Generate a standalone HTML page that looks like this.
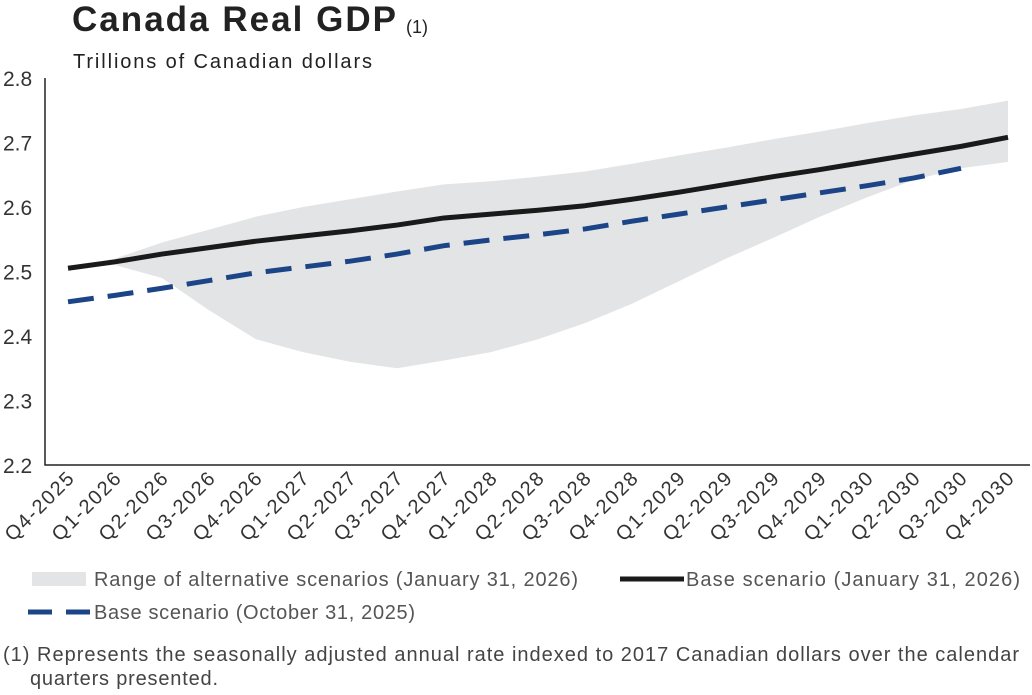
<!DOCTYPE html>
<html><head><meta charset="utf-8"><style>
body{margin:0;background:#fff;width:1032px;height:690px;overflow:hidden;font-family:"Liberation Sans",sans-serif;color:#333}
svg text{font-family:"Liberation Sans",sans-serif}
</style></head><body>
<svg id="c" width="1032" height="690">
<text x="72" y="31" font-size="35" font-weight="bold" fill="#222" textLength="324">Canada Real GDP</text>
<text x="406" y="33" font-size="18" fill="#222">(1)</text>
<text x="73" y="68" font-size="20" fill="#222" textLength="299">Trillions of Canadian dollars</text>
<g id="plot"></g>
<rect x="32" y="572" width="54" height="14" fill="#e3e4e5"/>
<text x="94" y="586" font-size="20" fill="#555" textLength="484">Range of alternative scenarios (January 31, 2026)</text>
<line x1="620" y1="579" x2="684" y2="579" stroke="#1a1a1a" stroke-width="5"/>
<text x="686" y="586" font-size="20" fill="#555" textLength="334">Base scenario (January 31, 2026)</text>
<line x1="28" y1="612" x2="90" y2="612" stroke="#1c4587" stroke-width="5" stroke-dasharray="24,14"/>
<text x="94" y="619" font-size="20" fill="#555" textLength="321">Base scenario (October 31, 2025)</text>
<text x="3" y="661" font-size="20" fill="#444" textLength="1016">(1)  Represents the seasonally adjusted annual rate indexed to 2017 Canadian dollars over the calendar</text>
<text x="30" y="685" font-size="20" fill="#444" textLength="188">quarters presented.</text>
</svg>
<script>
const categories=["Q4-2025","Q1-2026","Q2-2026","Q3-2026","Q4-2026","Q1-2027","Q2-2027","Q3-2027","Q4-2027","Q1-2028","Q2-2028","Q3-2028","Q4-2028","Q1-2029","Q2-2029","Q3-2029","Q4-2029","Q1-2030","Q2-2030","Q3-2030","Q4-2030"];
const baseJan=[2.505,2.515,2.527,2.537,2.547,2.555,2.563,2.572,2.583,2.589,2.595,2.602,2.612,2.623,2.635,2.647,2.658,2.670,2.682,2.694,2.708];
const baseOct=[2.453,2.463,2.474,2.486,2.498,2.507,2.516,2.527,2.540,2.549,2.557,2.566,2.578,2.589,2.600,2.611,2.622,2.633,2.645,2.660];
const rangeHigh=[2.505,2.52,2.545,2.565,2.585,2.6,2.612,2.624,2.635,2.64,2.647,2.655,2.667,2.68,2.692,2.705,2.717,2.73,2.742,2.752,2.765];
const rangeLow=[2.505,2.51,2.49,2.44,2.395,2.375,2.36,2.35,2.362,2.375,2.395,2.42,2.45,2.485,2.52,2.552,2.585,2.615,2.642,2.66,2.67];
const yTicks=[2.2,2.3,2.4,2.5,2.6,2.7,2.8];
const NS="http://www.w3.org/2000/svg";
const g=document.getElementById('plot');
const X=i=>68+i*47;
const Y=v=>465-(v-2.2)/0.6*387;
function mk(t,a){const e=document.createElementNS(NS,t);for(const k in a)e.setAttribute(k,a[k]);g.appendChild(e);return e;}
let d='M'+rangeHigh.map((v,i)=>X(i)+','+Y(v)).join(' L');
for(let i=rangeLow.length-1;i>=0;i--)d+=' L'+X(i)+','+Y(rangeLow[i]);
let band=mk('path',{d:d+'Z',fill:'#e3e4e5'});


let ax=mk('path',{d:'M45,'+Y(2.8)+' V465 H1030',fill:'none',stroke:'#222','stroke-width':1.5});


yTicks.forEach(v=>{const t=mk('text',{x:3,y:Y(v)+8,'font-size':21,fill:'#333'});t.textContent=v.toFixed(1);

});
categories.forEach((c,i)=>{const t=mk('text',{x:X(i)+7,y:480,'font-size':20,fill:'#333','text-anchor':'end',textLength:88,transform:'rotate(-45 '+(X(i)+7)+' 480)'});t.textContent=c;

});
let lo=mk('polyline',{points:baseOct.map((v,i)=>X(i)+','+Y(v)).join(' '),fill:'none',stroke:'#1c4587','stroke-width':5,'stroke-dasharray':'26,14'});


let lj=mk('polyline',{points:baseJan.map((v,i)=>X(i)+','+Y(v)).join(' '),fill:'none',stroke:'#1a1a1a','stroke-width':5,'stroke-linejoin':'round'});


</script>
</body></html>
